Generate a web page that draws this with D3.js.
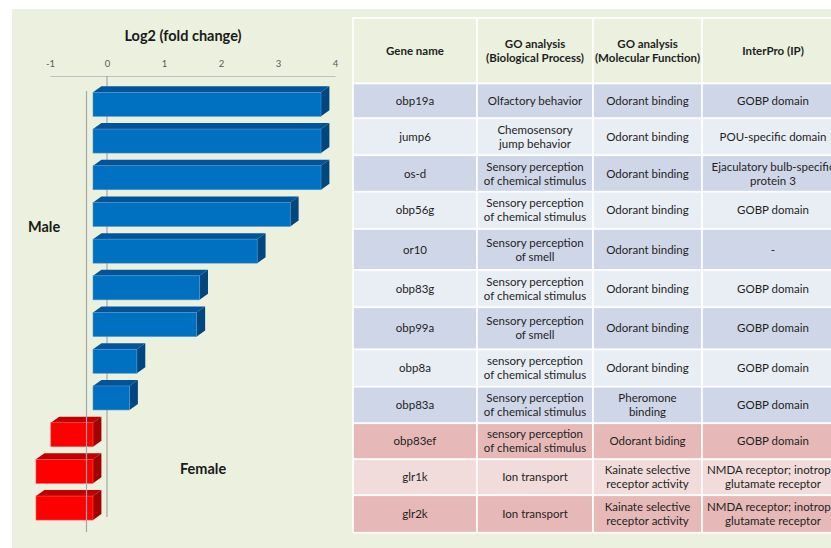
<!DOCTYPE html>
<html><head><meta charset="utf-8">
<script src="https://cdn.jsdelivr.net/npm/d3@7"></script>
<style>html,body{margin:0;padding:0;background:#fff;}svg{display:block;}</style>
</head><body><svg id="c" width="831" height="548"></svg>
<script>
// ---- data ----
const genes = ["obp19a","jump6","os-d","obp56g","or10","obp83g","obp99a","obp8a","obp83a","obp83ef","glr1k","glr2k"];
const log2fc = [4.0, 4.0, 4.0, 3.46, 2.88, 1.87, 1.82, 0.77, 0.64, -0.74, -1.0, -1.0];
const sex = ["Male","Male","Male","Male","Male","Male","Male","Male","Male","Female","Female","Female"];
const tickValues = [-1, 0, 1, 2, 3, 4];
const headers = ["Gene name", "GO analysis\n(Biological Process)", "GO analysis\n(Molecular Function)", "InterPro (IP)"];
const bioProcess = ["Olfactory behavior","Chemosensory\njump behavior","Sensory perception\nof chemical stimulus","Sensory perception\nof chemical stimulus","Sensory perception\nof smell","Sensory perception\nof chemical stimulus","Sensory perception\nof smell","sensory perception\nof chemical stimulus","Sensory perception\nof chemical stimulus","sensory perception\nof chemical stimulus","Ion transport","Ion transport"];
const molFunction = ["Odorant binding","Odorant binding","Odorant binding","Odorant binding","Odorant binding","Odorant binding","Odorant binding","Odorant binding","Pheromone\nbinding","Odorant biding","Kainate selective\nreceptor activity","Kainate selective\nreceptor activity"];
const interPro = ["GOBP domain","POU-specific domain","Ejaculatory bulb-specific\nprotein 3","GOBP domain","-","GOBP domain","GOBP domain","GOBP domain","GOBP domain","GOBP domain","NMDA receptor; inotropic\nglutamate receptor","NMDA receptor; inotropic\nglutamate receptor"];

// ---- layout ----
const rowHeights = [34.8, 37, 36.4, 37.3, 41, 37.3, 42.2, 37.2, 36.6, 36, 36, 37.4];
const colEdges = [353, 477, 593, 702, 844];
const headerTop = 18, headerBottom = 83.5;
const FONT = "Lato, 'Open Sans', sans-serif";

const svg = d3.select("#c");
svg.append("rect").attr("x", 12).attr("y", 9).attr("width", 819).attr("height", 539).attr("fill", "#EBF1DE");

// ---- chart ----
const x = d3.scaleLinear().domain([-1, 4]).range([50, 335]);
const y = d3.scaleBand().domain(genes).range([86, 526.4]).paddingInner(0.346).paddingOuter(0.173);
const front = 14, dx = 8.4, dy = 6;

svg.append("text").attr("x", 183).attr("y", 41).attr("text-anchor", "middle")
  .attr("font-family", FONT).attr("font-weight", "bold").attr("font-size", 14.5).attr("fill", "#1a1a1a")
  .text("Log2 (fold change)");

const axisG = svg.append("g").attr("transform", "translate(0,76)");
axisG.call(d3.axisTop(x).tickValues(tickValues).tickSize(0).tickPadding(9).tickFormat(d => String(d)));
axisG.select(".domain").attr("stroke", "#BFBFBF").attr("stroke-width", 1.2);
axisG.selectAll("text").attr("font-family", FONT).attr("font-size", 9.5).attr("fill", "#595959");

// zero line (back)
svg.append("line").attr("x1", x(0)).attr("x2", x(0)).attr("y1", 76).attr("y2", 517)
  .attr("stroke", "#A6A6A6").attr("stroke-width", 1.2);

const colors = {
  Male: {front: "#0070C0", top: "#00559A", side: "#00467F", edge: "#4F95D0"},
  Female: {front: "#FF0000", top: "#C00000", side: "#A00000", edge: "#FF5050"}
};
const bars = svg.append("g").selectAll("g").data(genes).join("g");
bars.each(function(g, i) {
  const v = log2fc[i], c = colors[sex[i]];
  const xl = Math.min(x(0), x(v)) - front, xr = Math.max(x(0), x(v)) - front;
  const yt = y(g), yb = yt + y.bandwidth();
  const s = d3.select(this);
  s.append("polygon").attr("points", [[xl,yt],[xl+dx,yt-dy],[xr+dx,yt-dy],[xr,yt]].join(" ")).attr("fill", c.top);
  s.append("polygon").attr("points", [[xr,yt],[xr+dx,yt-dy],[xr+dx,yb-dy],[xr,yb]].join(" ")).attr("fill", c.side);
  s.append("rect").attr("x", xl).attr("y", yt).attr("width", xr - xl).attr("height", yb - yt)
    .attr("fill", c.front).attr("stroke", c.edge).attr("stroke-width", 0.6);
});

// floor line (front)
svg.append("line").attr("x1", x(0) - 20.5).attr("x2", x(0) - 20.5).attr("y1", 91).attr("y2", 532)
  .attr("stroke", "#A6A6A6").attr("stroke-width", 1.2);

svg.append("text").attr("x", 28).attr("y", 232).attr("font-family", FONT).attr("font-weight", "bold")
  .attr("font-size", 14.5).attr("fill", "#1a1a1a").text("Male");
svg.append("text").attr("x", 180).attr("y", 474).attr("font-family", FONT).attr("font-weight", "bold")
  .attr("font-size", 14.5).attr("fill", "#1a1a1a").text("Female");

// ---- table ----
const tbl = svg.append("g");
const rowFill = (i) => {
  if (sex[i] === "Female") return (i - 9) % 2 === 0 ? "#E6B9B8" : "#F2DCDB";
  return i % 2 === 0 ? "#CFD6E8" : "#E9EDF4";
};
function cell(x0, x1, y0, y1, fill, txt, bold) {
  tbl.append("rect").attr("x", x0).attr("y", y0).attr("width", x1 - x0).attr("height", y1 - y0)
    .attr("fill", fill).attr("stroke", "#FFFFFF").attr("stroke-width", 1.6);
  const lines = txt.split("\n");
  const cy = (y0 + y1) / 2, lh = 14;
  const t = tbl.append("text").attr("text-anchor", "middle").attr("font-family", FONT)
    .attr("font-size", 11.5).attr("font-weight", bold ? "bold" : "normal").attr("fill", "#1F1F1F");
  lines.forEach((ln, k) => {
    t.append("tspan").attr("x", (x0 + x1) / 2)
      .attr("y", cy + (k - (lines.length - 1) / 2) * lh + 4).text(ln);
  });
}
headers.forEach((h, j) => cell(colEdges[j], colEdges[j + 1], headerTop, headerBottom, "#EBF1DE", h, true));
let yy = headerBottom;
genes.forEach((g, i) => {
  const y1 = yy + rowHeights[i];
  const vals = [g, bioProcess[i], molFunction[i], interPro[i]];
  vals.forEach((v, j) => cell(colEdges[j], colEdges[j + 1], yy, y1, rowFill(i), v, false));
  yy = y1;
});
</script></body></html>
